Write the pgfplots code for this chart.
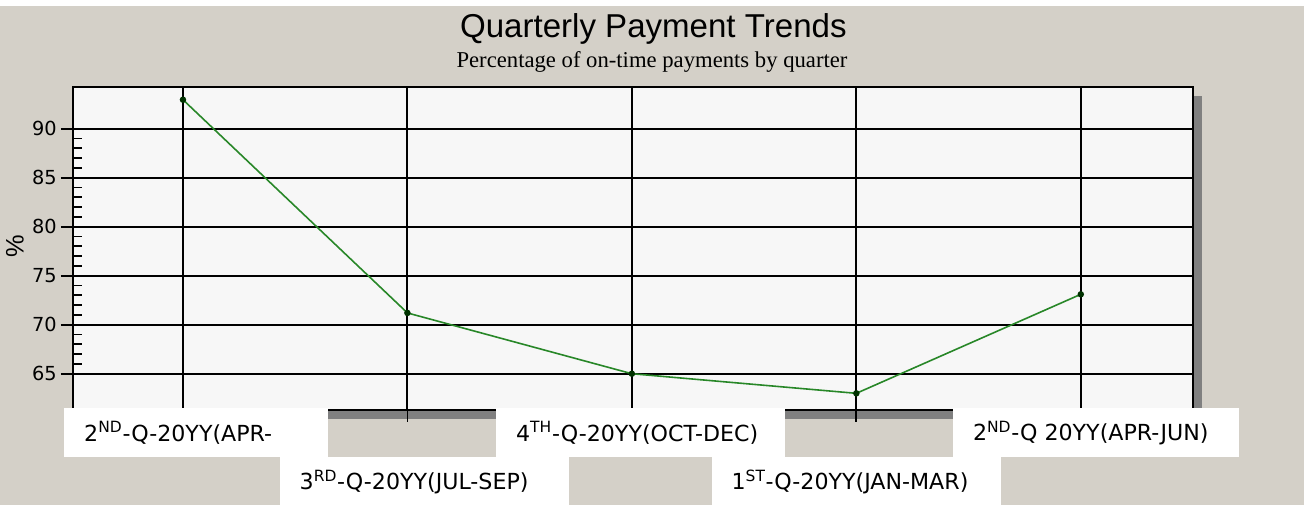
\documentclass[border=0pt]{standalone}
\usepackage{pgfplots}
\pgfplotsset{compat=1.18}
\usepackage{fontspec}
\setmainfont{Liberation Sans}
\newfontfamily\dejavu{DejaVu Sans}
\newfontfamily\serifsub{Liberation Serif}
\definecolor{bggray}{RGB}{212,208,200}
\definecolor{plotbg}{RGB}{247,247,247}
\definecolor{shadowgray}{RGB}{128,128,128}
\definecolor{linegreen}{RGB}{40,135,40}
\definecolor{markgreen}{RGB}{0,50,0}
\begin{document}
\begin{tikzpicture}
\fill[bggray] (0pt,0pt) rectangle (978pt,378.75pt);
\fill[white] (0pt,374.25pt) rectangle (978pt,378.75pt);
\fill[shadowgray] (61.5pt,64.5pt) rectangle (901.5pt,306.75pt);
\node[anchor=base, inner sep=0pt, font=\fontsize{24.8}{26}\selectfont] at (490pt,350.25pt) {Quarterly Payment Trends};
\node[anchor=base, inner sep=0pt, font=\serifsub\fontsize{17}{19}\selectfont] at (489pt,327.75pt) {Percentage of on-time payments by quarter};
\node[rotate=90, inner sep=0pt, font=\fontsize{19}{20}\selectfont] at (11.25pt,194.25pt) {\%};
\begin{axis}[
  at={(54.75pt,71.25pt)}, anchor=south west,
  scale only axis, width=840pt, height=242.25pt,
  xmin=-0.49, xmax=4.5, ymin=61.3, ymax=94.25,
  axis background/.style={fill=plotbg},
  xtick={0,1,2,3,4},
  xticklabels={
    {\makebox[168pt][l]{2\textsuperscript{ND}-Q-20YY(APR-}},
    {\makebox[186.75pt][l]{3\textsuperscript{RD}-Q-20YY(JUL-SEP)}},
    {\makebox[186.75pt][l]{4\textsuperscript{TH}-Q-20YY(OCT-DEC)}},
    {\makebox[186.75pt][l]{1\textsuperscript{ST}-Q-20YY(JAN-MAR)}},
    {\makebox[184.5pt][l]{2\textsuperscript{ND}-Q 20YY(APR-JUN)}}},
  ytick={65,70,...,90},
  minor y tick num=4,
  grid=major,
  major grid style={black, line width=1.5pt},
  axis line style={black, line width=1.5pt},
  tick style={black, line width=1.3pt},
  xtick pos=bottom, ytick pos=left,
  tick align=center, major tick length=18pt, minor tick length=7pt,
  every minor tick/.append style={xshift=3.5pt},
  /pgf/number format/assume math mode=true,
  yticklabel style={font=\dejavu\fontsize{14.5}{15}\selectfont, inner sep=0pt, xshift=-3pt},
  xticklabel style={font=\dejavu\fontsize{16.6}{18}\selectfont, fill=white, anchor=north west,
    inner xsep=15pt, inner ysep=0pt, minimum height=36.75pt,
    xshift={{-89.25,-96,-102,-108.75,-96}[\ticknum]*1pt},
    yshift={(10.5-36.75*mod(\ticknum,2))*1pt}},
  clip=false,
]
\addplot[color=linegreen, line width=1.2pt, mark=*, mark size=1.8pt,
  mark options={fill=markgreen, draw=markgreen}] coordinates {
  (0,92.95) (1,71.2) (2,65.0) (3,63.0) (4,73.1)
};
\end{axis}
\end{tikzpicture}
\end{document}
